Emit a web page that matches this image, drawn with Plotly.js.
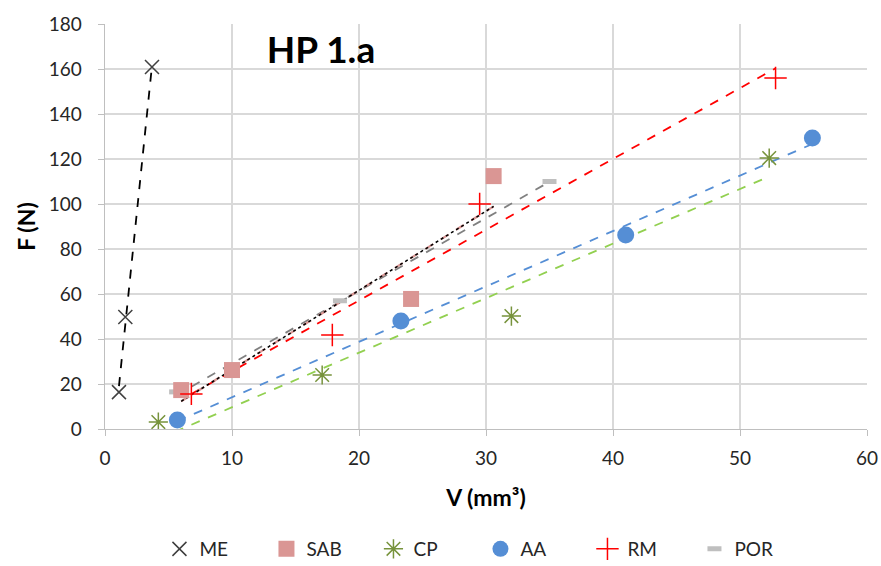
<!DOCTYPE html>
<html>
<head>
<meta charset="utf-8">
<script src="https://cdn.plot.ly/plotly-3.0.1.min.js"></script>
<style>html,body{margin:0;padding:0;background:#fff;}#chart{width:881px;height:566px;}</style>
</head>
<body>
<div id="chart"></div>
<script>
// Data
const seriesNames = ["ME", "SAB", "CP", "AA", "RM", "POR"];
const meX = [1.1, 1.6, 3.7];
const meY = [16.4, 49.8, 160.9];
const sabX = [6.0, 10.0, 24.1, 30.6];
const sabY = [17.3, 26.2, 57.8, 112.4];
const cpX = [4.2, 17.1, 32.0, 52.3];
const cpY = [3.1, 24.0, 50.2, 120.4];
const aaX = [5.7, 23.3, 41.0, 55.7];
const aaY = [4.0, 48.0, 86.2, 129.3];
const rmX = [6.8, 17.9, 29.5, 52.8];
const rmY = [15.6, 41.8, 100.0, 156.0];
const porX = [5.6, 10.0, 18.5, 35.0];
const porY = [16.5, 27.0, 57.0, 110.0];

const xTicks = [0, 10, 20, 30, 40, 50, 60];
const yTicks = [0, 20, 40, 60, 80, 100, 120, 140, 160, 180];

function fit(xs, ys) {
  const n = xs.length;
  const mx = xs.reduce((a, b) => a + b, 0) / n;
  const my = ys.reduce((a, b) => a + b, 0) / n;
  let sxy = 0, sxx = 0;
  for (let i = 0; i < n; i++) { sxy += (xs[i] - mx) * (ys[i] - my); sxx += (xs[i] - mx) ** 2; }
  const m = sxy / sxx, b = my - m * mx;
  const x0 = Math.min(...xs), x1 = Math.max(...xs);
  return { x: [x0, x1], y: [m * x0 + b, m * x1 + b] };
}

function trend(xs, ys, color, dash, width) {
  const f = fit(xs, ys);
  return { x: f.x, y: f.y, type: "scatter", mode: "lines", showlegend: false, hoverinfo: "skip",
    line: { color: color, dash: dash, width: width } };
}

const cME = "#404040", cSAB = "#DA9694", cCP = "#77933C", cAA = "#558ED5", cRM = "#FF0000", cPOR = "#BFBFBF";

const traces = [
  trend(porX, porY, "#808080", "dash", 1.8),
  trend(cpX, cpY, "#92D050", "dash", 1.8),
  trend(aaX, aaY, "#558ED5", "dash", 1.8),
  trend(rmX, rmY, "#FF0000", "dash", 1.8),
  trend(sabX, sabY, "#DA9694", "dash", 2.2),
  trend(sabX, sabY, "#000000", "dot", 1.5),
  trend(meX, meY, "#000000", "dash", 1.8),
  { x: porX, y: porY, name: seriesNames[5], type: "scatter", mode: "markers", legendrank: 6,
    marker: { symbol: "line-ew", size: 10, color: cPOR, line: { color: cPOR, width: 5 } } },
  { x: meX, y: meY, name: seriesNames[0], type: "scatter", mode: "markers", legendrank: 1,
    marker: { symbol: "x-thin", size: 14, color: cME, line: { color: cME, width: 1.5 } } },
  { x: sabX, y: sabY, name: seriesNames[1], type: "scatter", mode: "markers", legendrank: 2,
    marker: { symbol: "square", size: 16, color: cSAB, line: { width: 0 } } },
  { x: cpX, y: cpY, name: seriesNames[2], type: "scatter", mode: "markers", legendrank: 3,
    marker: { symbol: "asterisk", size: 16, color: cCP, line: { color: cCP, width: 1.5 } } },
  { x: aaX, y: aaY, name: seriesNames[3], type: "scatter", mode: "markers", legendrank: 4,
    marker: { symbol: "circle", size: 17, color: cAA, line: { width: 0 } } },
  { x: rmX, y: rmY, name: seriesNames[4], type: "scatter", mode: "markers", legendrank: 5,
    marker: { symbol: "cross-thin", size: 16, color: cRM, line: { color: cRM, width: 1.5 } } }
];

const font = "Lato, 'Open Sans', sans-serif";
const layout = {
  width: 881, height: 566,
  margin: { l: 105, r: 14, t: 24, b: 137 },
  paper_bgcolor: "#ffffff", plot_bgcolor: "#ffffff",
  font: { family: font, size: 19, color: "#262626" },
  title: { text: "<b>HP 1.a</b>", font: { family: font, size: 37, color: "#000" },
    x: 321 / 881, xanchor: "center", y: 1 - 50 / 566, yanchor: "middle" },
  xaxis: { range: [0, 60], tickvals: xTicks, ticktext: xTicks.map(String), automargin: false,
    showgrid: true, gridcolor: "#D9D9D9", gridwidth: 1.3, zeroline: false,
    showline: true, linecolor: "#BFBFBF", linewidth: 1.3, ticks: "outside", ticklen: 6, tickcolor: "#BFBFBF",
    ticklabelstandoff: 6,
    tickfont: { size: 19, family: font, color: "#262626" },
    title: { text: "<b>V (mm³)</b>", font: { size: 23, family: font, color: "#000" }, standoff: 21 } },
  yaxis: { range: [0, 180], tickvals: yTicks, ticktext: yTicks.map(String), automargin: false,
    showgrid: true, gridcolor: "#D9D9D9", gridwidth: 1.3, zeroline: false,
    showline: true, linecolor: "#BFBFBF", linewidth: 1.3, ticks: "outside", ticklen: 6, tickcolor: "#BFBFBF",
    ticklabelstandoff: 12,
    tickfont: { size: 19, family: font, color: "#262626" },
    title: { text: "<b>F (N)</b>", font: { size: 23, family: font, color: "#000" }, standoff: 6 } },
  showlegend: true,
  legend: { orientation: "h", xref: "container", yref: "container", x: 0.181, xanchor: "left",
    y: 1 - 549 / 566, yanchor: "middle",
    entrywidth: 62, entrywidthmode: "pixels", itemwidth: 30, traceorder: "normal",
    font: { size: 19, family: font, color: "#262626" }, bgcolor: "rgba(0,0,0,0)" }
};

Plotly.newPlot("chart", traces, layout, { displayModeBar: false, staticPlot: true });
</script>
</body>
</html>
